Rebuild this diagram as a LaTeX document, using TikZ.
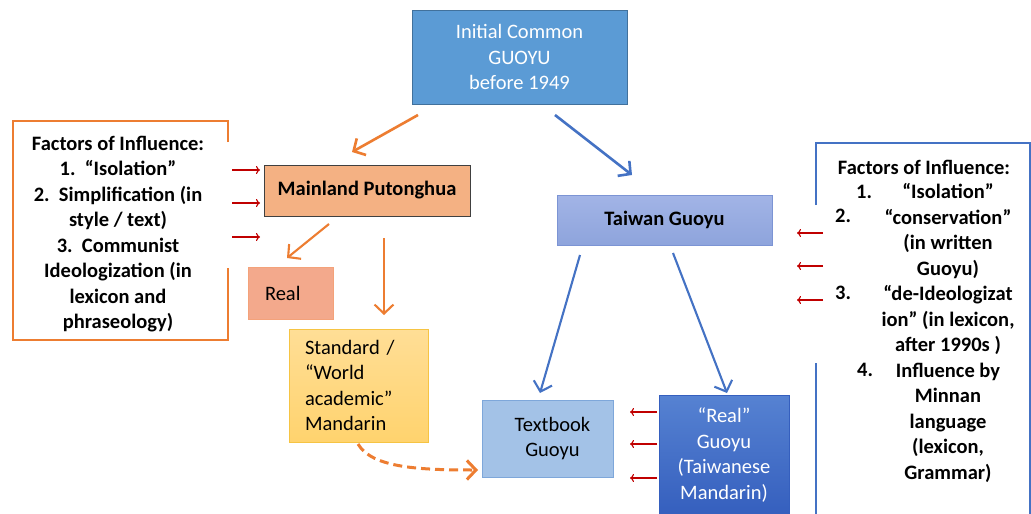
\documentclass[tikz,border=0pt]{standalone}
\usepackage{fontspec}
\setmainfont{Carlito}
\usetikzlibrary{arrows.meta}
\definecolor{orA}{HTML}{ED7D31}
\definecolor{blA}{HTML}{4472C4}
\definecolor{redA}{HTML}{C00000}
\definecolor{topF}{HTML}{5B9BD5}
\definecolor{topB}{HTML}{41719C}
\definecolor{mainF}{HTML}{F4B183}
\definecolor{realF}{HTML}{F3A98C}
\definecolor{realB}{HTML}{F4A27A}
\definecolor{stdT}{HTML}{FFDE96}
\definecolor{stdBo}{HTML}{FFD36E}
\definecolor{stdB}{HTML}{F6C443}
\definecolor{twT}{HTML}{A2B4E6}
\definecolor{twBo}{HTML}{8EA4DC}
\definecolor{twB}{HTML}{7C94D4}
\definecolor{tbF}{HTML}{A3C2E7}
\definecolor{tbB}{HTML}{7EA7DA}
\definecolor{rgT}{HTML}{5682D2}
\definecolor{rgBo}{HTML}{355FBE}
\begin{document}
\begin{tikzpicture}[x=1pt,y=-1pt,
  every node/.style={font=\fontsize{20.5}{25.5}\selectfont, inner sep=0pt},
  box/.style={draw, rectangle, line width=1pt, align=center},
  oarr/.style={draw=orA, line width=2.6pt, -{Straight Barb[length=9pt,width=19pt]}},
  barr/.style={draw=blA, line width=2.6pt, -{Straight Barb[length=9pt,width=19pt]}},
  rarr/.style={draw=redA, line width=1.1pt, -{To[length=4pt,width=8pt]}},
  bf/.style={font=\fontsize{20.5}{25.5}\selectfont\bfseries}]
\useasboundingbox (0,0) rectangle (1031,514);
\clip (0,0) rectangle (1031,514);
\fill[white] (0,0) rectangle (1031,514);

% boxes
\node[box, draw=topB, fill=topF, text=white, minimum width=215pt, minimum height=94pt] (top) at (519.5,57) {Initial Common\\GUOYU\\before 1949};
\node[box, bf, draw=black!75, fill=mainF, minimum width=206pt, minimum height=51pt] (mainland) at (367,190.5) {Mainland Putonghua};
\node[box, draw=realB, fill=realF, minimum width=85pt, minimum height=52pt, text width=51pt, inner xsep=17pt, align=left] (realm) at (290.5,293) {Real};
\node[box, draw=stdB, top color=stdT, bottom color=stdBo, minimum width=139pt, minimum height=113pt, text width=107pt, inner xsep=16pt, align=left] (std) at (358.5,385.5) {Standard /\\“World\\academic”\\Mandarin};
\node[box, bf, draw=twB, top color=twT, bottom color=twBo, minimum width=215pt, minimum height=50pt] (taiwan) at (664.5,220) {Taiwan Guoyu};
\node[box, draw=tbB, fill=tbF, minimum width=131pt, minimum height=77pt] (textbook) at (547.5,438.5) {\hspace*{10pt}Textbook\\\hspace*{10pt}Guoyu};
\node[box, draw=rgBo, top color=rgT, bottom color=rgBo, text=white, minimum width=130pt, minimum height=120pt] (realg) at (724,455) {“Real”\\Guoyu\\(Taiwanese\\Mandarin)};

% left factors frame
\draw[orA, line width=2pt] (228,142) -- (228,121) -- (13,121) -- (13,340) -- (228,340) -- (228,268);
\node[bf, align=center] (lfac) at (118,234) {Factors of Influence:\\1.\ \ “Isolation”\\2.\ \ Simplification (in\\style / text)\\3.\ \ Communist\\Ideologization (in\\lexicon and\\phraseology)};

% right factors frame
\draw[blA, line width=1.6pt] (816,205) -- (816,143) -- (1030,143) -- (1030,520);
\draw[blA, line width=1.6pt] (816,363) -- (816,520);
\node[bf] (rhead) at (924,167) {Factors of Influence:};
\node[bf, align=center] (rcol) at (948,333) {“Isolation”\\“conservation”\\(in written\\Guoyu)\\“de-Ideologizat\\ion” (in lexicon,\\after 1990s )\\Influence by\\Minnan\\language\\(lexicon,\\Grammar)};
\node[bf, anchor=west] (n1) at (856,192) {1.};
\node[bf, anchor=west] (n2) at (835,216) {2.};
\node[bf, anchor=west] (n3) at (835,293) {3.};
\node[bf, anchor=west] (n4) at (857,370) {4.};

% arrow end points
\coordinate (a1s) at (418,115); \coordinate (a1e) at (352,152);
\coordinate (a2s) at (555,115); \coordinate (a2e) at (632,175);
\coordinate (a3s) at (329,224); \coordinate (a3e) at (287,258);
\coordinate (a4s) at (384,238); \coordinate (a4e) at (384,315);
\coordinate (a5s) at (580,255); \coordinate (a5e) at (540,393);
\coordinate (a6s) at (673,253); \coordinate (a6e) at (727,393);
\coordinate (ds) at (358,444); \coordinate (de) at (478,470);

\draw[oarr] (a1s) -- (a1e);
\draw[barr] (a2s) -- (a2e);
\draw[oarr, line width=2.1pt] (a3s) -- (a3e);
\draw[oarr, line width=2.1pt] (a4s) -- (a4e);
\draw[barr, line width=2.1pt] (a5s) -- (a5e);
\draw[barr, line width=2.1pt] (a6s) -- (a6e);
\draw[oarr, line width=3pt, dash pattern=on 9pt off 5pt] (ds) .. controls (372,468) and (420,470) .. (de);

% red influence arrows
\foreach \y [count=\i] in {170,203,237} {
  \coordinate (ls\i) at (232,\y); \coordinate (le\i) at (260,\y);
  \draw[rarr] (ls\i) -- (le\i);
}
\foreach \y [count=\i] in {233,266,300} {
  \coordinate (rs\i) at (823,\y); \coordinate (re\i) at (797,\y);
  \draw[rarr] (rs\i) -- (re\i);
}
\foreach \y [count=\i] in {412,444,478} {
  \coordinate (ms\i) at (657,\y); \coordinate (me\i) at (630,\y);
  \draw[rarr] (ms\i) -- (me\i);
}
\end{tikzpicture}
\end{document}
